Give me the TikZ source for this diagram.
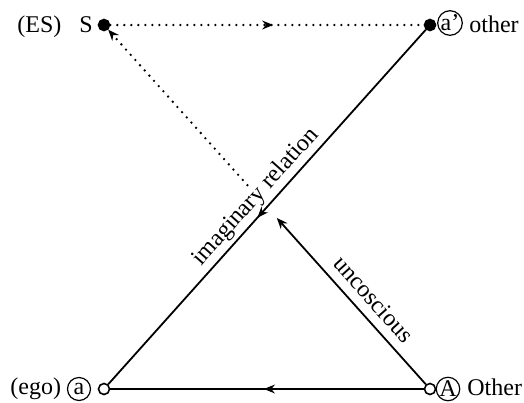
\documentclass[tikz,border=0pt]{standalone}
\usepackage{fontspec}
\setmainfont{Liberation Serif}
\usetikzlibrary{arrows.meta, decorations.markings, calc}
\tikzset{
    spot/.style={circle, draw, line width=0.8pt, inner sep=0pt, minimum size=5.5pt, fill=#1},
    spot/.default=black,
    ring/.style={circle, draw, line width=0.6pt, inner sep=0pt, minimum size=11.5pt, font=\fontsize{12}{14}\selectfont},
    txt/.style={anchor=base west, inner sep=0pt, font=\fontsize{12}{14}\selectfont},
    lbl/.style={inner sep=0pt, font=\fontsize{12}{14}\selectfont},
    rel/.style={line width=0.9pt},
    dots/.style={line width=1.3pt, line cap=round, dash pattern=on 0pt off 3.5pt},
    tip/.style={postaction={decorate}, decoration={markings,
        mark=at position #1 with {\arrow{Stealth[length=5.5pt,width=4.4pt]}}}},
    rtip/.style={postaction={decorate}, decoration={markings,
        mark=at position #1 with {\arrowreversed{Stealth[length=5.5pt,width=4.4pt]}}}}
}

\begin{document}
\begin{tikzpicture}[x=0.5pt, y=-0.5pt]
    \useasboundingbox (0,0) rectangle (524,402);

    % the four corners of the schema
    \node[spot] (S) at (104,25) {};
    \node[spot] (ap) at (430,25) {};
    \node[spot=white] (a) at (104,389) {};
    \node[spot=white] (A) at (430,389) {};

    % names
    \node[txt] (es) at (17,32) {(ES)};
    \node[txt] (sname) at (79,32) {S};
    \node[ring] (apring) at (450,23) {a'};
    \node[txt] (other) at (469,32) {other};
    \node[txt] (ego) at (10,394) {(ego)};
    \node[ring] (aring) at (79,389) {a};
    \node[ring] (Aring) at (448,389) {A};
    \node[txt] (Other) at (467,395) {Other};

    \coordinate (cutA) at ($(A)!0.47!(S)$);
    \coordinate (cutS) at ($(S)!0.44!(A)$);

    \draw[dots, tip=0.52] (S) -- (ap);
    \draw[rel, tip=0.51] (A) -- (a);
    \draw[rel, rtip=0.47] (a) -- node[lbl, sloped, above=1.5pt, pos=0.5] {imaginary relation} (ap);
    \draw[rel, {Stealth[length=5.5pt,width=4.4pt]}-] (cutA) -- node[lbl, sloped, above=4.5pt, pos=0.56] {uncoscious} (A);
    \draw[dots, -{Stealth[length=5.5pt,width=4.4pt]}] (cutS) -- (S);
\end{tikzpicture}
\end{document}
